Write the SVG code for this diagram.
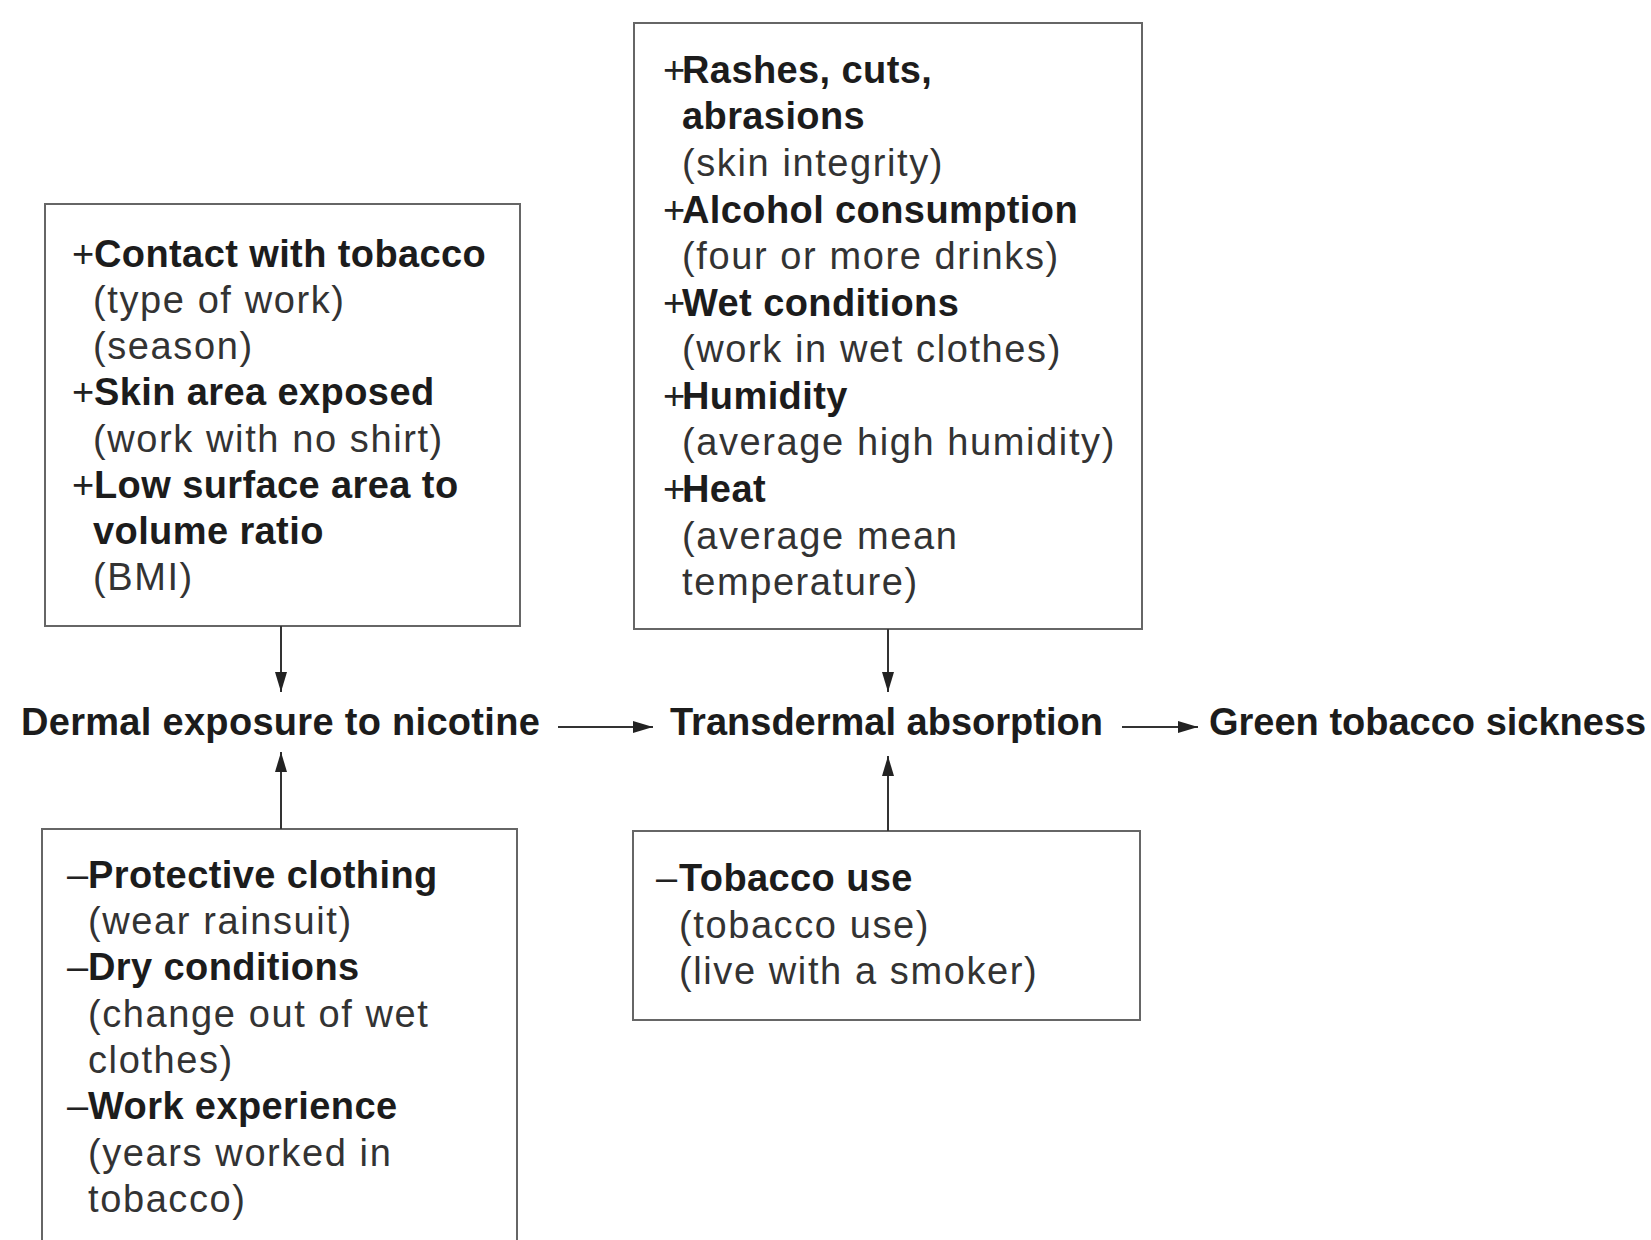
<svg xmlns="http://www.w3.org/2000/svg" width="1651" height="1240" viewBox="0 0 1651 1240">
<style>
  .box { fill: #ffffff; stroke: #666666; stroke-width: 2; }
  text { font-family: "Liberation Sans", Arial, sans-serif; font-size: 38px; }
  .b { font-weight: bold; fill: #1c1c1c; letter-spacing: 0.4px; }
  .r { fill: #333333; letter-spacing: 1.6px; }
  .sign { fill: #222222; }
  .lbl { font-weight: bold; fill: #1c1c1c; }
  .conn { stroke: #333333; stroke-width: 2; fill: none; }
</style>
<defs>
  <marker id="arrow" markerUnits="userSpaceOnUse" markerWidth="20" markerHeight="12" refX="20" refY="6" orient="auto">
    <path d="M0,0 L20,6 L0,12 z" fill="#222222"/>
  </marker>
</defs>
<rect x="0" y="0" width="1651" height="1240" fill="#ffffff"/>

<g id="box-dermal-factors-plus">
  <rect class="box" x="45" y="204" width="475" height="422"/>
  <text x="72" y="267"><tspan class="sign">+</tspan><tspan class="b" x="94">Contact with tobacco</tspan></text>
  <text class="r" x="93" y="313">(type of work)</text>
  <text class="r" x="93" y="359">(season)</text>
  <text x="72" y="405"><tspan class="sign">+</tspan><tspan class="b" x="94">Skin area exposed</tspan></text>
  <text class="r" x="93" y="452">(work with no shirt)</text>
  <text x="72" y="498"><tspan class="sign">+</tspan><tspan class="b" x="94">Low surface area to</tspan></text>
  <text class="b" x="93" y="544">volume ratio</text>
  <text class="r" x="93" y="590">(BMI)</text>
</g>

<g id="box-absorption-factors-plus">
  <rect class="box" x="634" y="23" width="508" height="606"/>
  <text x="663" y="83"><tspan class="sign">+</tspan><tspan class="b" x="682">Rashes, cuts,</tspan></text>
  <text class="b" x="682" y="129">abrasions</text>
  <text class="r" x="682" y="176">(skin integrity)</text>
  <text x="663" y="223"><tspan class="sign">+</tspan><tspan class="b" x="682">Alcohol consumption</tspan></text>
  <text class="r" x="682" y="269">(four or more drinks)</text>
  <text x="663" y="316"><tspan class="sign">+</tspan><tspan class="b" x="682">Wet conditions</tspan></text>
  <text class="r" x="682" y="362">(work in wet clothes)</text>
  <text x="663" y="409"><tspan class="sign">+</tspan><tspan class="b" x="682">Humidity</tspan></text>
  <text class="r" x="682" y="455">(average high humidity)</text>
  <text x="663" y="502"><tspan class="sign">+</tspan><tspan class="b" x="682">Heat</tspan></text>
  <text class="r" x="682" y="549">(average mean</text>
  <text class="r" x="682" y="595">temperature)</text>
</g>

<g id="box-dermal-factors-minus">
  <rect class="box" x="42" y="829" width="475" height="430"/>
  <text x="67" y="888"><tspan class="sign">–</tspan><tspan class="b" x="88">Protective clothing</tspan></text>
  <text class="r" x="88" y="934">(wear rainsuit)</text>
  <text x="67" y="980"><tspan class="sign">–</tspan><tspan class="b" x="88">Dry conditions</tspan></text>
  <text class="r" x="88" y="1027">(change out of wet</text>
  <text class="r" x="88" y="1073">clothes)</text>
  <text x="67" y="1119"><tspan class="sign">–</tspan><tspan class="b" x="88">Work experience</tspan></text>
  <text class="r" x="88" y="1166">(years worked in</text>
  <text class="r" x="88" y="1212">tobacco)</text>
</g>

<g id="box-absorption-factors-minus">
  <rect class="box" x="633" y="831" width="507" height="189"/>
  <text x="656" y="891"><tspan class="sign">–</tspan><tspan class="b" x="679">Tobacco use</tspan></text>
  <text class="r" x="679" y="938">(tobacco use)</text>
  <text class="r" x="679" y="984">(live with a smoker)</text>
</g>

<g id="node-dermal-exposure">
  <text class="lbl" x="21" y="735" style="letter-spacing:0.3px">Dermal exposure to nicotine</text>
</g>
<g id="node-transdermal-absorption">
  <text class="lbl" x="670" y="735">Transdermal absorption</text>
</g>
<g id="node-green-tobacco-sickness">
  <text class="lbl" x="1209" y="735">Green tobacco sickness</text>
</g>

<g id="connectors">
  <line class="conn" x1="281" y1="626" x2="281" y2="692" marker-end="url(#arrow)"/>
  <line class="conn" x1="281" y1="829" x2="281" y2="752" marker-end="url(#arrow)"/>
  <line class="conn" x1="888" y1="629" x2="888" y2="692" marker-end="url(#arrow)"/>
  <line class="conn" x1="888" y1="831" x2="888" y2="756" marker-end="url(#arrow)"/>
  <line class="conn" x1="558" y1="727" x2="653" y2="727" marker-end="url(#arrow)"/>
  <line class="conn" x1="1122" y1="727" x2="1198" y2="727" marker-end="url(#arrow)"/>
</g>
</svg>
